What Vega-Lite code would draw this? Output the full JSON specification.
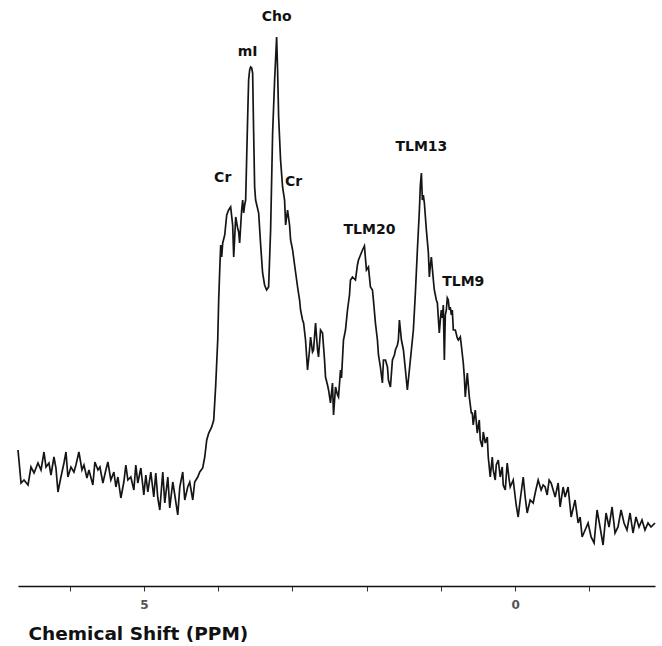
{
  "$schema": "https://vega.github.io/schema/vega-lite/v6.json",
  "width": 637,
  "height": 586,
  "autosize": {"type": "none"},
  "padding": {"left": 18, "top": 0, "right": 7, "bottom": 60},
  "background": "white",
  "config": {"view": {"stroke": null}},
  "datasets": {
    "spectrum": [
      {"ppm": 6.694, "intensity": 136}, {"ppm": 6.653, "intensity": 103}, {"ppm": 6.613, "intensity": 106}, {"ppm": 6.559, "intensity": 101},
      {"ppm": 6.519, "intensity": 119}, {"ppm": 6.478, "intensity": 113}, {"ppm": 6.425, "intensity": 123}, {"ppm": 6.384, "intensity": 116},
      {"ppm": 6.344, "intensity": 134}, {"ppm": 6.317, "intensity": 119}, {"ppm": 6.277, "intensity": 123}, {"ppm": 6.250, "intensity": 111},
      {"ppm": 6.210, "intensity": 129}, {"ppm": 6.183, "intensity": 118}, {"ppm": 6.156, "intensity": 94}, {"ppm": 6.116, "intensity": 109},
      {"ppm": 6.075, "intensity": 123}, {"ppm": 6.048, "intensity": 134}, {"ppm": 6.022, "intensity": 109}, {"ppm": 5.981, "intensity": 119},
      {"ppm": 5.941, "intensity": 114}, {"ppm": 5.914, "intensity": 121}, {"ppm": 5.874, "intensity": 134}, {"ppm": 5.833, "intensity": 116},
      {"ppm": 5.806, "intensity": 121}, {"ppm": 5.766, "intensity": 108}, {"ppm": 5.739, "intensity": 116}, {"ppm": 5.686, "intensity": 101},
      {"ppm": 5.659, "intensity": 124}, {"ppm": 5.618, "intensity": 116}, {"ppm": 5.591, "intensity": 119}, {"ppm": 5.551, "intensity": 103},
      {"ppm": 5.511, "intensity": 116}, {"ppm": 5.484, "intensity": 124}, {"ppm": 5.444, "intensity": 106}, {"ppm": 5.403, "intensity": 114},
      {"ppm": 5.376, "intensity": 99}, {"ppm": 5.349, "intensity": 109}, {"ppm": 5.309, "intensity": 88}, {"ppm": 5.269, "intensity": 104},
      {"ppm": 5.242, "intensity": 121}, {"ppm": 5.215, "intensity": 106}, {"ppm": 5.175, "intensity": 109}, {"ppm": 5.134, "intensity": 96},
      {"ppm": 5.108, "intensity": 121}, {"ppm": 5.081, "intensity": 103}, {"ppm": 5.040, "intensity": 118}, {"ppm": 5.000, "intensity": 91},
      {"ppm": 4.973, "intensity": 111}, {"ppm": 4.946, "intensity": 94}, {"ppm": 4.906, "intensity": 114}, {"ppm": 4.866, "intensity": 89},
      {"ppm": 4.839, "intensity": 113}, {"ppm": 4.812, "intensity": 88}, {"ppm": 4.785, "intensity": 76}, {"ppm": 4.745, "intensity": 114},
      {"ppm": 4.718, "intensity": 83}, {"ppm": 4.677, "intensity": 109}, {"ppm": 4.651, "intensity": 78}, {"ppm": 4.610, "intensity": 104},
      {"ppm": 4.583, "intensity": 91}, {"ppm": 4.543, "intensity": 71}, {"ppm": 4.516, "intensity": 99}, {"ppm": 4.476, "intensity": 114},
      {"ppm": 4.449, "intensity": 86}, {"ppm": 4.409, "intensity": 99}, {"ppm": 4.382, "intensity": 104}, {"ppm": 4.341, "intensity": 86},
      {"ppm": 4.315, "intensity": 104}, {"ppm": 4.274, "intensity": 109}, {"ppm": 4.247, "intensity": 114}, {"ppm": 4.207, "intensity": 118},
      {"ppm": 4.180, "intensity": 129}, {"ppm": 4.153, "intensity": 146}, {"ppm": 4.126, "intensity": 153}, {"ppm": 4.086, "intensity": 159},
      {"ppm": 4.059, "intensity": 166}, {"ppm": 4.032, "intensity": 201}, {"ppm": 4.005, "intensity": 246}, {"ppm": 3.992, "intensity": 286},
      {"ppm": 3.978, "intensity": 316}, {"ppm": 3.965, "intensity": 341}, {"ppm": 3.952, "intensity": 329}, {"ppm": 3.938, "intensity": 343},
      {"ppm": 3.911, "intensity": 351}, {"ppm": 3.884, "intensity": 371}, {"ppm": 3.858, "intensity": 376}, {"ppm": 3.831, "intensity": 379},
      {"ppm": 3.804, "intensity": 361}, {"ppm": 3.790, "intensity": 329}, {"ppm": 3.763, "intensity": 369}, {"ppm": 3.737, "intensity": 358},
      {"ppm": 3.723, "intensity": 354}, {"ppm": 3.710, "intensity": 343}, {"ppm": 3.683, "intensity": 376}, {"ppm": 3.669, "intensity": 386},
      {"ppm": 3.656, "intensity": 373}, {"ppm": 3.642, "intensity": 381}, {"ppm": 3.629, "intensity": 386}, {"ppm": 3.616, "intensity": 426},
      {"ppm": 3.602, "intensity": 469}, {"ppm": 3.589, "intensity": 506}, {"ppm": 3.575, "intensity": 516}, {"ppm": 3.562, "intensity": 519},
      {"ppm": 3.548, "intensity": 518}, {"ppm": 3.535, "intensity": 513}, {"ppm": 3.522, "intensity": 456}, {"ppm": 3.508, "intensity": 399},
      {"ppm": 3.495, "intensity": 386}, {"ppm": 3.454, "intensity": 373}, {"ppm": 3.427, "intensity": 341}, {"ppm": 3.401, "intensity": 313},
      {"ppm": 3.374, "intensity": 301}, {"ppm": 3.347, "intensity": 296}, {"ppm": 3.320, "intensity": 299}, {"ppm": 3.293, "intensity": 356},
      {"ppm": 3.266, "intensity": 453}, {"ppm": 3.239, "intensity": 506}, {"ppm": 3.212, "intensity": 549}, {"ppm": 3.199, "intensity": 516},
      {"ppm": 3.185, "intensity": 469}, {"ppm": 3.159, "intensity": 426}, {"ppm": 3.132, "intensity": 399}, {"ppm": 3.105, "intensity": 386},
      {"ppm": 3.091, "intensity": 361}, {"ppm": 3.065, "intensity": 376}, {"ppm": 3.038, "intensity": 361}, {"ppm": 3.024, "intensity": 346},
      {"ppm": 2.997, "intensity": 336}, {"ppm": 2.970, "intensity": 321}, {"ppm": 2.930, "intensity": 299}, {"ppm": 2.903, "intensity": 286},
      {"ppm": 2.890, "intensity": 276}, {"ppm": 2.863, "intensity": 266}, {"ppm": 2.849, "intensity": 263}, {"ppm": 2.823, "intensity": 246},
      {"ppm": 2.796, "intensity": 216}, {"ppm": 2.769, "intensity": 236}, {"ppm": 2.755, "intensity": 249}, {"ppm": 2.729, "intensity": 234},
      {"ppm": 2.715, "intensity": 236}, {"ppm": 2.688, "intensity": 263}, {"ppm": 2.661, "intensity": 236}, {"ppm": 2.648, "intensity": 229},
      {"ppm": 2.621, "intensity": 256}, {"ppm": 2.594, "intensity": 253}, {"ppm": 2.567, "intensity": 226}, {"ppm": 2.554, "intensity": 209},
      {"ppm": 2.527, "intensity": 201}, {"ppm": 2.513, "intensity": 196}, {"ppm": 2.487, "intensity": 183}, {"ppm": 2.460, "intensity": 203},
      {"ppm": 2.446, "intensity": 171}, {"ppm": 2.419, "intensity": 199}, {"ppm": 2.392, "intensity": 191}, {"ppm": 2.379, "intensity": 189},
      {"ppm": 2.352, "intensity": 216}, {"ppm": 2.339, "intensity": 208}, {"ppm": 2.312, "intensity": 246}, {"ppm": 2.285, "intensity": 256},
      {"ppm": 2.258, "intensity": 276}, {"ppm": 2.231, "intensity": 291}, {"ppm": 2.218, "intensity": 306}, {"ppm": 2.191, "intensity": 309},
      {"ppm": 2.151, "intensity": 306}, {"ppm": 2.124, "intensity": 321}, {"ppm": 2.110, "intensity": 326}, {"ppm": 2.083, "intensity": 331},
      {"ppm": 2.056, "intensity": 336}, {"ppm": 2.030, "intensity": 340}, {"ppm": 2.003, "intensity": 316}, {"ppm": 1.976, "intensity": 319},
      {"ppm": 1.949, "intensity": 299}, {"ppm": 1.922, "intensity": 296}, {"ppm": 1.909, "intensity": 286}, {"ppm": 1.882, "intensity": 263},
      {"ppm": 1.855, "intensity": 246}, {"ppm": 1.841, "intensity": 231}, {"ppm": 1.815, "intensity": 219}, {"ppm": 1.788, "intensity": 203},
      {"ppm": 1.774, "intensity": 226}, {"ppm": 1.747, "intensity": 226}, {"ppm": 1.720, "intensity": 219}, {"ppm": 1.707, "intensity": 206},
      {"ppm": 1.680, "intensity": 199}, {"ppm": 1.653, "intensity": 226}, {"ppm": 1.626, "intensity": 231}, {"ppm": 1.613, "intensity": 236},
      {"ppm": 1.586, "intensity": 241}, {"ppm": 1.573, "intensity": 246}, {"ppm": 1.559, "intensity": 266}, {"ppm": 1.532, "intensity": 246},
      {"ppm": 1.505, "intensity": 236}, {"ppm": 1.478, "intensity": 216}, {"ppm": 1.452, "intensity": 196}, {"ppm": 1.425, "intensity": 216},
      {"ppm": 1.398, "intensity": 236}, {"ppm": 1.371, "intensity": 256}, {"ppm": 1.344, "intensity": 293}, {"ppm": 1.317, "intensity": 336},
      {"ppm": 1.290, "intensity": 376}, {"ppm": 1.277, "intensity": 401}, {"ppm": 1.263, "intensity": 413}, {"ppm": 1.250, "intensity": 386},
      {"ppm": 1.237, "intensity": 391}, {"ppm": 1.223, "intensity": 383}, {"ppm": 1.196, "intensity": 356}, {"ppm": 1.169, "intensity": 333},
      {"ppm": 1.156, "intensity": 309}, {"ppm": 1.142, "intensity": 321}, {"ppm": 1.129, "intensity": 329}, {"ppm": 1.102, "intensity": 306},
      {"ppm": 1.089, "intensity": 296}, {"ppm": 1.062, "intensity": 286}, {"ppm": 1.048, "intensity": 283}, {"ppm": 1.022, "intensity": 253},
      {"ppm": 1.008, "intensity": 266}, {"ppm": 0.995, "intensity": 276}, {"ppm": 0.981, "intensity": 268}, {"ppm": 0.968, "intensity": 281},
      {"ppm": 0.954, "intensity": 226}, {"ppm": 0.941, "intensity": 271}, {"ppm": 0.927, "intensity": 276}, {"ppm": 0.914, "intensity": 288},
      {"ppm": 0.901, "intensity": 286}, {"ppm": 0.887, "intensity": 276}, {"ppm": 0.874, "intensity": 279}, {"ppm": 0.860, "intensity": 271},
      {"ppm": 0.847, "intensity": 276}, {"ppm": 0.833, "intensity": 256}, {"ppm": 0.806, "intensity": 256}, {"ppm": 0.780, "intensity": 248},
      {"ppm": 0.766, "intensity": 246}, {"ppm": 0.739, "intensity": 249}, {"ppm": 0.726, "intensity": 241}, {"ppm": 0.699, "intensity": 223},
      {"ppm": 0.685, "intensity": 209}, {"ppm": 0.672, "intensity": 189}, {"ppm": 0.645, "intensity": 213}, {"ppm": 0.618, "intensity": 189},
      {"ppm": 0.591, "intensity": 173}, {"ppm": 0.578, "intensity": 173}, {"ppm": 0.565, "intensity": 161}, {"ppm": 0.538, "intensity": 176},
      {"ppm": 0.511, "intensity": 153}, {"ppm": 0.484, "intensity": 166}, {"ppm": 0.470, "intensity": 146}, {"ppm": 0.444, "intensity": 139},
      {"ppm": 0.430, "intensity": 154}, {"ppm": 0.403, "intensity": 143}, {"ppm": 0.376, "intensity": 149}, {"ppm": 0.363, "intensity": 129},
      {"ppm": 0.336, "intensity": 109}, {"ppm": 0.309, "intensity": 129}, {"ppm": 0.296, "intensity": 116}, {"ppm": 0.269, "intensity": 106},
      {"ppm": 0.255, "intensity": 121}, {"ppm": 0.228, "intensity": 126}, {"ppm": 0.202, "intensity": 109}, {"ppm": 0.175, "intensity": 119},
      {"ppm": 0.161, "intensity": 101}, {"ppm": 0.134, "intensity": 96}, {"ppm": 0.108, "intensity": 123}, {"ppm": 0.081, "intensity": 106},
      {"ppm": 0.067, "intensity": 99}, {"ppm": 0.027, "intensity": 106}, {"ppm": 0.000, "intensity": 89}, {"ppm": -0.013, "intensity": 81},
      {"ppm": -0.040, "intensity": 69}, {"ppm": -0.067, "intensity": 86}, {"ppm": -0.108, "intensity": 109}, {"ppm": -0.134, "intensity": 89},
      {"ppm": -0.161, "intensity": 73}, {"ppm": -0.202, "intensity": 86}, {"ppm": -0.242, "intensity": 83}, {"ppm": -0.269, "intensity": 93},
      {"ppm": -0.309, "intensity": 106}, {"ppm": -0.349, "intensity": 96}, {"ppm": -0.376, "intensity": 101}, {"ppm": -0.403, "intensity": 99},
      {"ppm": -0.430, "intensity": 91}, {"ppm": -0.457, "intensity": 106}, {"ppm": -0.484, "intensity": 103}, {"ppm": -0.511, "intensity": 96},
      {"ppm": -0.538, "intensity": 89}, {"ppm": -0.578, "intensity": 103}, {"ppm": -0.605, "intensity": 79}, {"ppm": -0.645, "intensity": 99},
      {"ppm": -0.672, "intensity": 89}, {"ppm": -0.712, "intensity": 99}, {"ppm": -0.753, "intensity": 69}, {"ppm": -0.806, "intensity": 86},
      {"ppm": -0.847, "intensity": 63}, {"ppm": -0.874, "intensity": 69}, {"ppm": -0.901, "intensity": 49}, {"ppm": -0.941, "intensity": 56},
      {"ppm": -0.981, "intensity": 63}, {"ppm": -1.022, "intensity": 49}, {"ppm": -1.062, "intensity": 43}, {"ppm": -1.102, "intensity": 76},
      {"ppm": -1.142, "intensity": 59}, {"ppm": -1.183, "intensity": 41}, {"ppm": -1.223, "intensity": 73}, {"ppm": -1.263, "intensity": 59},
      {"ppm": -1.304, "intensity": 79}, {"ppm": -1.344, "intensity": 53}, {"ppm": -1.384, "intensity": 59}, {"ppm": -1.425, "intensity": 76},
      {"ppm": -1.465, "intensity": 63}, {"ppm": -1.505, "intensity": 56}, {"ppm": -1.546, "intensity": 73}, {"ppm": -1.586, "intensity": 53},
      {"ppm": -1.626, "intensity": 69}, {"ppm": -1.667, "intensity": 59}, {"ppm": -1.707, "intensity": 66}, {"ppm": -1.747, "intensity": 56},
      {"ppm": -1.788, "intensity": 63}, {"ppm": -1.828, "intensity": 59}, {"ppm": -1.882, "intensity": 63}
    ],
    "peaks": [
      {"label": "Cr", "ppm": 3.938, "intensity": 408},
      {"label": "mI", "ppm": 3.602, "intensity": 534},
      {"label": "Cho", "ppm": 3.212, "intensity": 569},
      {"label": "Cr", "ppm": 2.984, "intensity": 404},
      {"label": "TLM20", "ppm": 1.962, "intensity": 356},
      {"label": "TLM13", "ppm": 1.263, "intensity": 439},
      {"label": "TLM9", "ppm": 0.699, "intensity": 304}
    ]
  },
  "layer": [
    {
      "data": {"name": "spectrum"},
      "mark": {"type": "line", "color": "#151515", "strokeWidth": 1.7, "interpolate": "linear"},
      "encoding": {
        "x": {
          "field": "ppm", "type": "quantitative",
          "scale": {"domain": [-1.882, 6.694], "reverse": true, "nice": false, "zero": false},
          "axis": {
            "values": [-1, 0, 1, 2, 3, 4, 5, 6],
            "format": "d",
            "labelExpr": "datum.value == 5 || datum.value == 0 ? datum.label : ''",
            "grid": false,
            "domainColor": "#111",
            "domainWidth": 1.5,
            "tickColor": "#333",
            "tickSize": 5,
            "labelFont": "DejaVu Sans",
            "labelFontSize": 12,
            "labelFontWeight": "bold",
            "labelColor": "#555",
            "labelPadding": 8,
            "title": "Chemical Shift (PPM)",
            "titleFont": "DejaVu Sans",
            "titleFontSize": 18.5,
            "titleFontWeight": "bold",
            "titleColor": "#111",
            "titleAnchor": "start",
            "titleAlign": "left",
            "titleBaseline": "alphabetic",
            "titleX": 10,
            "titleY": 53
          }
        },
        "y": {
          "field": "intensity", "type": "quantitative",
          "scale": {"domain": [0, 586], "nice": false},
          "axis": null
        }
      }
    },
    {
      "data": {"name": "peaks"},
      "mark": {"type": "text", "font": "DejaVu Sans", "fontSize": 14, "fontWeight": "bold", "color": "#111", "align": "center", "baseline": "middle"},
      "encoding": {
        "x": {"field": "ppm", "type": "quantitative"},
        "y": {"field": "intensity", "type": "quantitative"},
        "text": {"field": "label"}
      }
    }
  ]
}
